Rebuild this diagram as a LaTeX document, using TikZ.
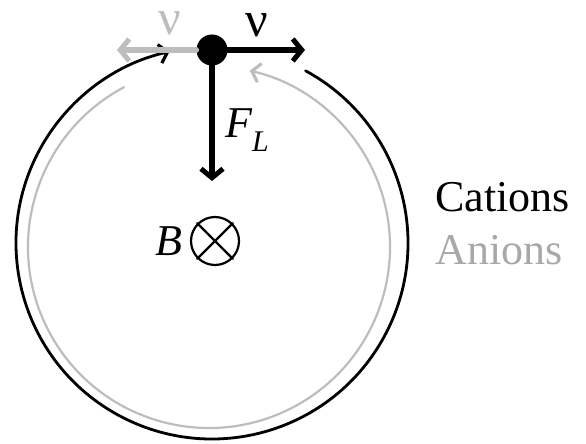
\documentclass[tikz,border=0pt]{standalone}
\usepackage{fontspec}
\setmainfont{Liberation Serif}
\usetikzlibrary{arrows.meta,positioning}
\definecolor{IonGray}{HTML}{BDBDBD}
\definecolor{LabelGray}{HTML}{A8A8A8}

\begin{document}
\begin{tikzpicture}[x=1pt,y=1pt,line cap=round,
    every node/.style={font=\fontsize{44}{48}\selectfont},
    vec/.style={line width=5.5pt,-{Straight Barb[length=9pt,width=22pt,line width=5pt]}},
    orbit/.style={line width=2.8pt,-{Straight Barb[length=8pt,width=19pt,line width=3.2pt]}},
    vlabel/.style={anchor=base,inner sep=0pt,text height=24pt,text depth=0pt,font=\fontsize{50}{54}\selectfont}]
  \useasboundingbox (0,0) rectangle (586,444);

  % orbits of the two ion species
  \draw[orbit,IonGray,line width=2.2pt] ([shift={(118:181)}]209,197) arc[start angle=118,end angle=437,radius=181];
  \draw[orbit,black] ([shift={(61.5:196)}]212,201) arc[start angle=61.5,end angle=-257.5,radius=196];

  % particle and its vectors
  \node[circle,fill=black,minimum size=31pt,inner sep=0pt] (ion) at (212,394) {};
  \coordinate (vright) at (305,394);
  \coordinate (vleft) at (117,394);
  \coordinate (force) at (212,263);
  \draw[vec,IonGray] (ion.west) -- (vleft);
  \draw[vec] (ion.east) -- (vright);
  \draw[vec] (ion.south) -- (force);
  \node[vlabel] (vcat) at (257,407) {ν};
  \node[vlabel,text=IonGray] (vani) at (170,409) {ν};
  \node (flabel) at (247,314) {\itshape F\raisebox{-0.3em}{\fontsize{30}{30}\selectfont L}};

  % magnetic field into the page
  \node[circle,draw,line width=2.2pt,minimum size=48pt,inner sep=0pt] (bfield) at (215,203) {};
  \draw[line width=2.2pt] (bfield.north west) -- (bfield.south east);
  \draw[line width=2.2pt] (bfield.north east) -- (bfield.south west);
  \node[left=4pt of bfield,font=\fontsize{44}{48}\selectfont\itshape] (blabel) {B};

  % legend
  \node[anchor=west] (cations) at (432,247) {Cations};
  \node[anchor=west,text=LabelGray] (anions) at (432,194) {Anions};
\end{tikzpicture}
\end{document}
